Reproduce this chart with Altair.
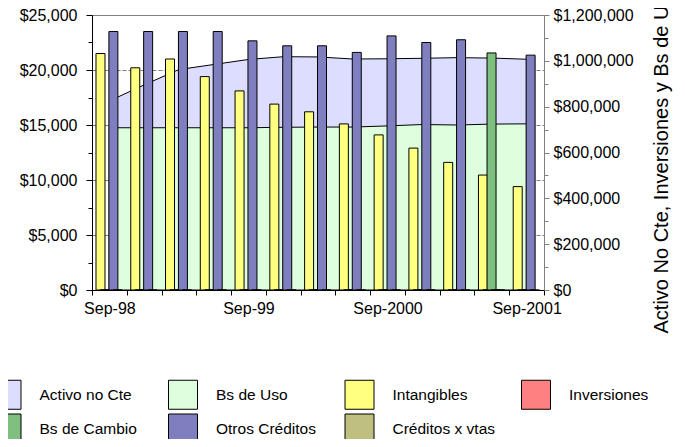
import altair as alt
import pandas as pd

FONT = "Liberation Sans"

quarters = ["Sep-98", "Dec-98", "Mar-99", "Jun-99", "Sep-99", "Dec-99", "Mar-2000",
            "Jun-2000", "Sep-2000", "Dec-2000", "Mar-2001", "Jun-2001", "Sep-2001"]
shown_labels = ["Sep-98", "Sep-99", "Sep-2000", "Sep-2001"]

# right axis (areas)
activo_no_cte = [825000, 895000, 962000, 984000, 1006000, 1018000, 1017000,
                 1008000, 1009000, 1011000, 1014000, 1012000, 1007000]
bs_de_uso = [708000, 708000, 708000, 708000, 708000, 710000, 711000,
             711000, 716000, 722000, 720000, 724000, 725000]

# left axis (bars)
intangibles = [21500, 20200, 21000, 19400, 18100, 16900, 16200, 15100, 14100, 12900, 11600, 10450, 9400]
inversiones = [0, 0, 0, 0, 0, 0, 0, 0, 0, 0, 0, 0, 0]
bs_de_cambio = [0, 0, 0, 0, 0, 0, 0, 0, 0, 0, 0, 21550, 0]
otros_creditos = [23500, 23500, 23500, 23500, 22650, 22200, 22200, 21600, 23100, 22500, 22750, 0, 21350]
creditos_x_vtas = [0, 0, 0, 0, 0, 0, 0, 0, 0, 0, 0, 0, 0]

series_names = ["Activo no Cte", "Bs de Uso", "Intangibles", "Inversiones",
                "Bs de Cambio", "Otros Créditos", "Créditos x vtas"]
series_colors = ["#DDDDFF", "#DEFFDE", "#FFFF80", "#FF8080", "#7FBF7F", "#7F7FBF", "#BFBF7F"]

series_values = {
    "Activo no Cte": activo_no_cte,
    "Bs de Uso": bs_de_uso,
    "Intangibles": intangibles,
    "Inversiones": inversiones,
    "Bs de Cambio": bs_de_cambio,
    "Otros Créditos": otros_creditos,
    "Créditos x vtas": creditos_x_vtas,
}

rows = []
for name, vals in series_values.items():
    for q, v in zip(quarters, vals):
        rows.append({"quarter": q, "serie": name, "value": v})
df = pd.DataFrame(rows)

base = alt.Chart(df)

x_enc = alt.X(
    "quarter:N",
    scale=alt.Scale(type="band", domain=quarters, paddingInner=0, paddingOuter=0),
    axis=alt.Axis(
        title=None,
        labelExpr="indexof(" + str(shown_labels) + ", datum.label) >= 0 ? datum.label : ''",
        tickBand="extent", tickSize=5, labelPadding=5, labelAngle=0,
        labelOverlap=False, domainColor="black", tickColor="black",
        labelFontSize=16, labelColor="black", labelFont=FONT, grid=False,
    ),
)

color_enc = alt.Color(
    "serie:N",
    scale=alt.Scale(domain=series_names, range=series_colors),
    legend=alt.Legend(
        title=None, orient="none", legendX=-100.5, legendY=364.5, columns=4,
        direction="horizontal",
        symbolType="square", symbolSize=841, symbolStrokeColor="black",
        symbolStrokeWidth=1, symbolOpacity=1, labelFontSize=15.5, labelFont=FONT,
        labelColor="black", labelOffset=18, columnPadding=23.5, rowPadding=0,
        gridAlign="all", padding=0, labelLimit=0,
    ),
)

y_left = alt.Y(
    "value:Q",
    scale=alt.Scale(domain=[0, 25000], nice=False),
    axis=alt.Axis(
        title=None, orient="left", values=list(range(0, 25001, 2500)), format="$,.0f",
        labelExpr="datum.value % 5000 === 0 ? datum.label : ''",
        tickSize={"condition": {"test": "datum.value % 5000 === 0", "value": 6}, "value": 4},
        labelPadding=9, grid=True, gridColor="#808080", gridDash=[4, 2],
        gridOpacity={"condition": {"test": "datum.value % 5000 === 0 && datum.value > 0 && datum.value < 25000", "value": 1}, "value": 0},
        domainColor="black", tickColor="black", labelFontSize=16, labelFont=FONT,
        labelColor="black", labelOverlap=False,
    ),
)

y_right = alt.Y(
    "value:Q",
    scale=alt.Scale(domain=[0, 1200000], nice=False),
    axis=alt.Axis(
        title="Activo No Cte, Inversiones y Bs de Uso", orient="right",
        values=list(range(0, 1200001, 100000)), format="$,.0f",
        labelExpr="datum.value % 200000 === 0 ? datum.label : ''",
        tickSize={"condition": {"test": "datum.value % 200000 === 0", "value": 5}, "value": 4},
        labelPadding=4, grid=False, domainColor="#808080", tickColor="#808080",
        labelFontSize=16, labelFont=FONT, labelColor="black", labelOverlap=False,
        titleAngle=270, titleX=123, titleY=143.5, titleAlign="center",
        titleBaseline="alphabetic", titleFontSize=20, titleFontWeight="normal",
        titleFont=FONT, titleColor="black",
    ),
)

area_layers = []
for name in ["Activo no Cte", "Bs de Uso"]:
    area_layers.append(
        base.transform_filter(alt.datum.serie == name)
        .mark_area(opacity=1, stroke="black", strokeWidth=1)
        .encode(x=x_enc, y=y_right, color=color_enc)
    )
areas = alt.layer(*area_layers)

bar_series = ["Intangibles", "Inversiones", "Bs de Cambio", "Otros Créditos", "Créditos x vtas"]
bar_offsets = [-8.9, -4.6, -0.3, 4.0, 8.3]
bar_layers = []
for name, off in zip(bar_series, bar_offsets):
    bar_layers.append(
        base.transform_filter(alt.datum.serie == name)
        .mark_bar(width=9, xOffset=off, stroke="black", strokeWidth=1, opacity=1)
        .encode(x=x_enc, y=y_left, color=color_enc)
    )
bars = alt.layer(*bar_layers)

chart = (
    alt.layer(areas, bars)
    .resolve_scale(y="independent")
    .properties(
        width=452, height=275,
        padding={"left": 84, "top": 7, "right": 133, "bottom": 149},
        autosize=alt.AutoSizeParams(type="none"),
        background="white",
    )
    .configure_view(stroke="#808080", strokeWidth=1, fill="white")
)

chart.save("out.html", embed_options={"renderer": "svg", "actions": False})
